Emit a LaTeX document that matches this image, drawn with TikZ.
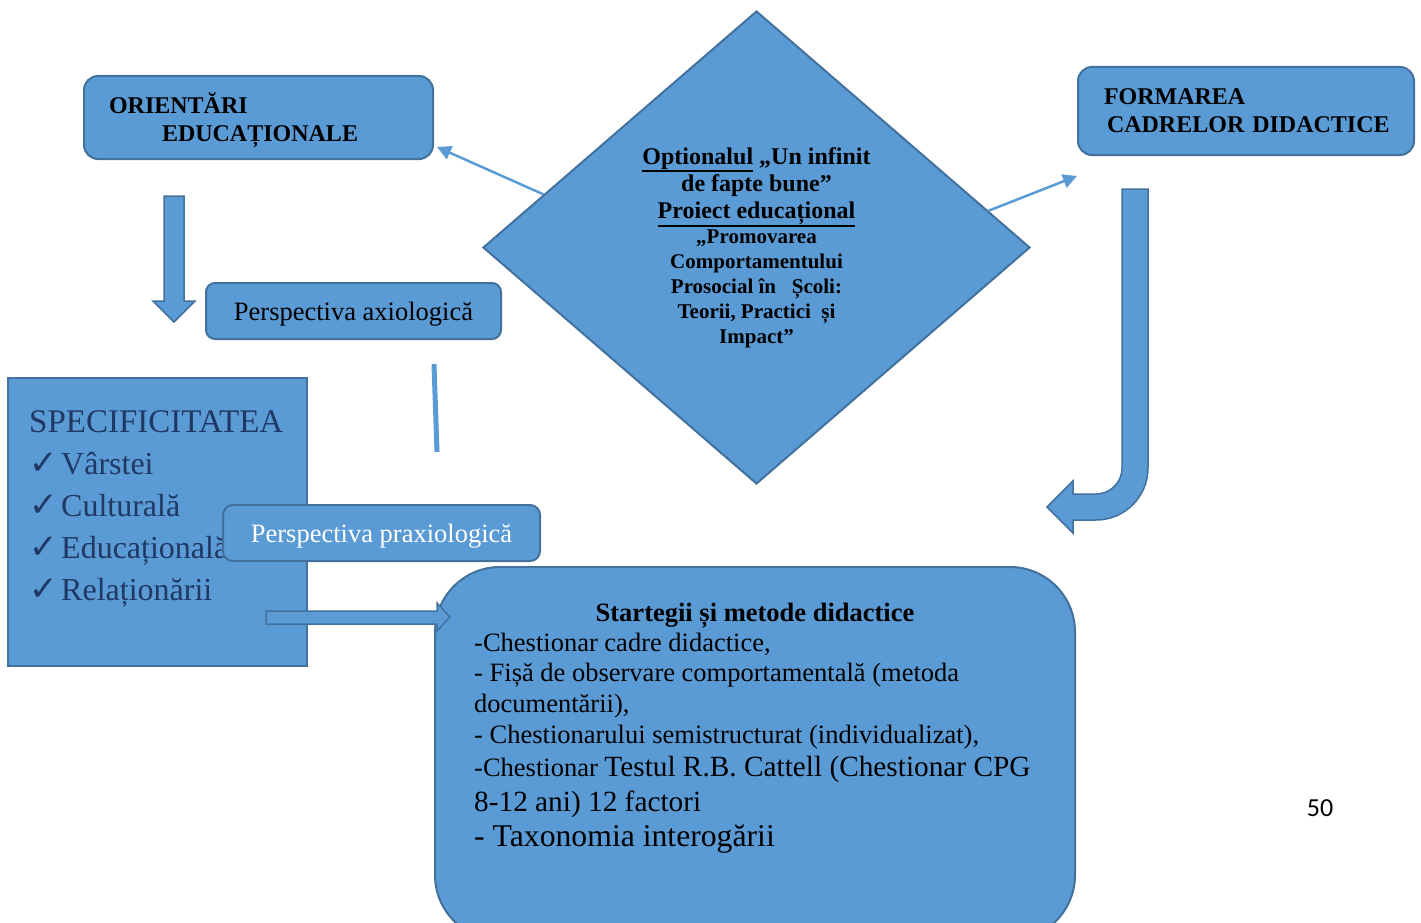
\documentclass[tikz,border=0pt]{standalone}
\usepackage{fontspec}
\setmainfont{Liberation Serif}
\newfontfamily\symbolfont{DejaVu Sans}
\newfontfamily\pagefont{Carlito}
\usepackage{tikz}
\usetikzlibrary{shapes.geometric,arrows.meta,positioning}

\definecolor{fillblue}{HTML}{5B9BD5}
\definecolor{edgeblue}{HTML}{41719C}
\definecolor{navytext}{HTML}{1F3864}

% thick underline for the project title
\newcommand{\ulbold}[1]{\leavevmode\vtop{\hbox{#1}\kern1pt\hrule height 1.8pt}}
\newcommand{\checkitem}{\makebox[32pt][l]{\symbolfont\fontsize{34}{42}\selectfont ✓}}

\tikzset{
  box/.style={draw=edgeblue, fill=fillblue, line width=2pt, rounded corners=14pt, inner sep=0pt},
  link/.style={draw=fillblue, line width=2.5pt, -{Triangle[length=14pt,width=14pt]}},
  blockarrow/.style={draw=edgeblue, fill=fillblue, line width=1.5pt, line join=miter}
}

\begin{document}
\begin{tikzpicture}[x=1pt,y=-1pt]
  \useasboundingbox (0,0) rectangle (1421,923);
  \clip (0,0) rectangle (1421,923);

  %% top boxes
  \node (orientari) at (258.5,117.5) [box, minimum width=349pt, minimum height=83pt, text width=299pt, inner xsep=25pt, align=left, font=\bfseries\fontsize{24}{28}\selectfont] {\rule{0pt}{27pt}ORIENTĂRI\\\hspace*{53pt}EDUCAȚIONALE};
  \node (formarea) at (1246,111) [box, minimum width=336pt, minimum height=88pt, text width=284pt, inner xsep=26pt, align=left, font=\bfseries\fontsize{24}{28}\selectfont] {FORMAREA\\\hspace*{3pt}\mbox{CADRELOR DIDACTICE}};

  %% project diamond
  \node (proiect) at (756.5,247.5) [diamond, draw=edgeblue, fill=fillblue, line width=2pt, minimum width=547pt, minimum height=473pt, inner sep=0pt, align=center, font=\bfseries\fontsize{21}{25}\selectfont]
    {{\fontsize{24}{28}\selectfont\ulbold{Optionalul} „Un infinit}\\[2pt]
     {\fontsize{24}{28}\selectfont de fapte bune”}\\[2pt]
     {\fontsize{24}{28}\selectfont\ulbold{Proiect educațional}}\\
     „Promovarea\\
     Comportamentului\\
     Prosocial în \ \ Școli:\\
     Teorii, Practici \ și\\
     Impact”};

  %% perspectives
  \node (axiologica) at (353.5,311) [box, rounded corners=9pt, minimum width=295pt, minimum height=56pt, text depth=0pt, font=\fontsize{26.5}{30}\selectfont] {Perspectiva axiologică};

  \node (specificitatea) at (157.5,522) [draw=edgeblue, fill=fillblue, line width=2pt, minimum width=299pt, minimum height=288pt] {};
  \node (specitems) at (29,410) [anchor=north west, inner sep=0pt, align=left, text=navytext, font=\fontsize{32}{42}\selectfont]
    {{\fontsize{33}{42}\selectfont SPECIFICITATEA}\\
     \checkitem Vârstei\\
     \checkitem Culturală\\
     \checkitem Educațională\\
     \checkitem Relaționării};

  \node (praxiologica) at (381.5,533) [box, rounded corners=10pt, minimum width=317pt, minimum height=56pt, text depth=0pt, text=white, font=\fontsize{26.5}{30}\selectfont] {Perspectiva praxiologică};

  %% strategies box
  \node (strategii) at (755,753.5) [box, rounded corners=65pt, minimum width=640pt, minimum height=373pt] {};
  \node (titlu) at (755,621) [anchor=base, inner sep=0pt, font=\bfseries\fontsize{26.5}{30}\selectfont] {Startegii și metode didactice};
  \node (metode) at (474,632.5) [anchor=north west, inner sep=0pt, align=left, font=\fontsize{26.5}{30.5}\selectfont]
    {-Chestionar cadre didactice,\\
     - Fișă de observare comportamentală (metoda\\
     documentării),\\[1pt]
     - Chestionarului semistructurat (individualizat),\\[2pt]
     -Chestionar {\fontsize{29.3}{35}\selectfont Testul R.B. Cattell (Chestionar CPG}\\[4.5pt]
     {\fontsize{29.3}{35}\selectfont 8-12 ani) 12 factori}\\[4.5pt]
     {\fontsize{31.7}{38}\selectfont - Taxonomia interogării}};

  %% block arrows
  \draw[blockarrow] (164,196) -- (184,196) -- (184,301) -- (195,301) -- (174,322) -- (153,301) -- (164,301) -- cycle;
  \draw[blockarrow] (266,611) -- (437,611) -- (437,603) -- (450,617) -- (437,631) -- (437,624) -- (266,624) -- cycle;
  \draw[blockarrow] (1122,189) -- (1148,189) -- (1148,468) .. controls (1148,496.7) and (1124.7,520) .. (1096,520)
    -- (1073,520) -- (1073,533) -- (1047,507) -- (1073,481) -- (1073,494) -- (1096,494)
    .. controls (1110.4,494) and (1122,482.4) .. (1122,468) -- cycle;
  \draw[fillblue, line width=5pt] (434,364) -- (437,452);

  %% links from the project
  \coordinate (orientari tip) at (437,147);
  \coordinate (formarea tip) at (1077,176);
  \draw[link] (proiect.166) -- (orientari tip);
  \draw[link] (proiect.9.5) -- (formarea tip);

  %% page number
  \node (pagina) at (1320,808) [font=\pagefont\fontsize{26}{30}\selectfont] {50};
\end{tikzpicture}
\end{document}
